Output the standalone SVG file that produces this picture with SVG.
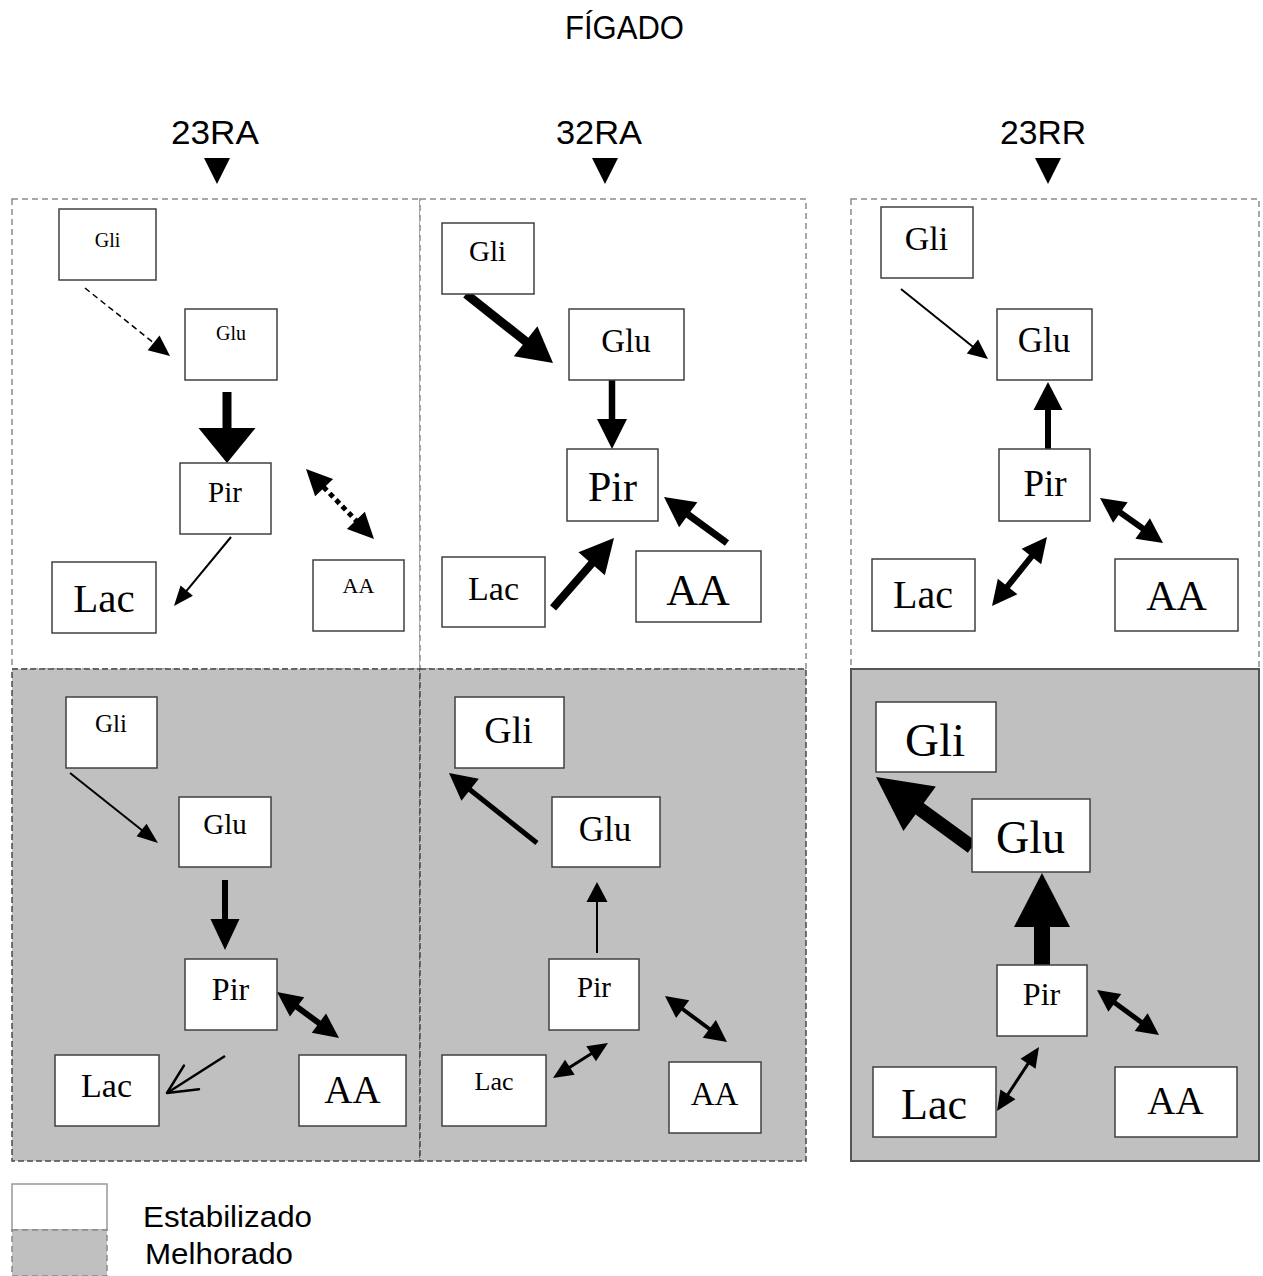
<svg xmlns="http://www.w3.org/2000/svg" width="1263" height="1276" viewBox="0 0 1263 1276">
<style>
.sans{font-family:"Liberation Sans",Arial,sans-serif;fill:#000}
.node rect{fill:#fff;stroke:#404040;stroke-width:1.5}
.node text{font-family:"Liberation Serif","Times New Roman",serif;text-anchor:middle;fill:#000}
.top{fill:#fff;stroke:#8c8c8c;stroke-width:1.5;stroke-dasharray:6 4}
.bot{fill:#c0c0c0;stroke:#4a4a4a;stroke-width:1.5;stroke-dasharray:6 3}
#connectors line,#connectors polyline{stroke:#000;fill:none}
#connectors polygon{fill:#000}
</style>
<rect width="1263" height="1276" fill="#fff"/>
<text class="sans" x="565" y="39" font-size="33" textLength="119" lengthAdjust="spacingAndGlyphs">FÍGADO</text>
<g id="headers">
<text class="sans" x="171" y="144" font-size="33" textLength="88" lengthAdjust="spacingAndGlyphs">23RA</text>
<text class="sans" x="556" y="144" font-size="33" textLength="86" lengthAdjust="spacingAndGlyphs">32RA</text>
<text class="sans" x="1000" y="144" font-size="33" textLength="86" lengthAdjust="spacingAndGlyphs">23RR</text>
<polygon points="204,158 230,158 217,184" fill="#000"/>
<polygon points="592,158 618,158 605,184" fill="#000"/>
<polygon points="1035,158 1061,158 1048,184" fill="#000"/>
</g>
<g id="panels">
<rect class="top" x="12" y="199" width="408" height="470"/>
<rect class="top" x="420" y="199" width="386" height="470"/>
<rect class="top" x="851" y="199" width="408" height="470"/>
<rect class="bot" x="12" y="669" width="408" height="492"/>
<rect class="bot" x="420" y="669" width="386" height="492"/>
<rect x="851" y="669" width="408" height="492" fill="#c0c0c0" stroke="#555" stroke-width="2"/>
</g>
<g id="connectors">
<g transform="translate(170,356) rotate(38.66)"><line x1="-108.9" y1="0" x2="-19" y2="0" stroke-width="1.5" stroke-dasharray="6 4"/><polygon points="0,0 -21,9.5 -21,-9.5"/></g>
<g transform="translate(227,463) rotate(90)"><line x1="-71" y1="0" x2="-34" y2="0" stroke-width="9"/><polygon points="0,0 -35,28.5 -35,-28.5"/></g>
<g transform="translate(174,606) rotate(129.56)"><line x1="-89.5" y1="0" x2="-19" y2="0" stroke-width="2"/><polygon points="0,0 -20,8 -20,-8"/></g>
<g transform="translate(374,539) rotate(45.83)"><line x1="-72.6" y1="0" x2="-25" y2="0" stroke-width="5" stroke-dasharray="5 4"/><polygon points="0,0 -26,12.5 -26,-12.5"/><polygon points="-97.6,0 -71.6,12.5 -71.6,-12.5"/></g>

<g transform="translate(553,363) rotate(38.42)"><line x1="-111" y1="0" x2="-33" y2="0" stroke-width="9"/><polygon points="0,0 -35,19 -35,-19"/></g>
<g transform="translate(612,449) rotate(90)"><line x1="-69" y1="0" x2="-29" y2="0" stroke-width="6.5"/><polygon points="0,0 -30,15 -30,-15"/></g>
<g transform="translate(614,538) rotate(-48.93)"><line x1="-92.8" y1="0" x2="-32" y2="0" stroke-width="8"/><polygon points="0,0 -34,17.5 -34,-17.5"/></g>
<g transform="translate(664,497) rotate(-143.86)"><line x1="-78" y1="0" x2="-29" y2="0" stroke-width="7"/><polygon points="0,0 -30,15.5 -30,-15.5"/></g>

<g transform="translate(988,359) rotate(38.82)"><line x1="-111.7" y1="0" x2="-19" y2="0" stroke-width="2"/><polygon points="0,0 -20,9 -20,-9"/></g>
<g transform="translate(1048,382) rotate(-90)"><line x1="-67" y1="0" x2="-27" y2="0" stroke-width="6"/><polygon points="0,0 -28,14.5 -28,-14.5"/></g>
<g transform="translate(1047,537) rotate(-51.44)"><line x1="-64.2" y1="0" x2="-24" y2="0" stroke-width="6"/><polygon points="0,0 -25,12.5 -25,-12.5"/><polygon points="-88.2,0 -63.2,12.5 -63.2,-12.5"/></g>
<g transform="translate(1163,543) rotate(35.54)"><line x1="-53.4" y1="0" x2="-24" y2="0" stroke-width="6"/><polygon points="0,0 -25,12.5 -25,-12.5"/><polygon points="-77.4,0 -52.4,12.5 -52.4,-12.5"/></g>

<g transform="translate(158,843) rotate(38.5)"><line x1="-112.4" y1="0" x2="-20" y2="0" stroke-width="2"/><polygon points="0,0 -21,8 -21,-8"/></g>
<g transform="translate(225,950) rotate(90)"><line x1="-70" y1="0" x2="-30" y2="0" stroke-width="6"/><polygon points="0,0 -31,14.5 -31,-14.5"/></g>
<g transform="translate(339,1038) rotate(36.57)"><line x1="-53.2" y1="0" x2="-24" y2="0" stroke-width="6"/><polygon points="0,0 -25,12 -25,-12"/><polygon points="-77.2,0 -52.2,12 -52.2,-12"/></g>
<g transform="translate(167,1093) rotate(147.46)"><line x1="-68.8" y1="0" x2="-1" y2="0" stroke-width="2.5"/><polyline points="-29,-14 0,0 -29,14" stroke-width="2.5" stroke-linecap="round" stroke-linejoin="round"/></g>

<g transform="translate(449,773) rotate(-141.5)"><line x1="-112.4" y1="0" x2="-26" y2="0" stroke-width="5"/><polygon points="0,0 -27,14 -27,-14"/></g>
<g transform="translate(597,882) rotate(-90)"><line x1="-71" y1="0" x2="-19" y2="0" stroke-width="2"/><polygon points="0,0 -20,10.5 -20,-10.5"/></g>
<g transform="translate(727,1042) rotate(36.57)"><line x1="-56.2" y1="0" x2="-21" y2="0" stroke-width="4"/><polygon points="0,0 -22,11 -22,-11"/><polygon points="-77.2,0 -55.2,11 -55.2,-11"/></g>
<g transform="translate(608,1043) rotate(-32.47)"><line x1="-46.2" y1="0" x2="-19" y2="0" stroke-width="3"/><polygon points="0,0 -20,9 -20,-9"/><polygon points="-65.2,0 -45.2,9 -45.2,-9"/></g>

<g transform="translate(876,777) rotate(-143.9)"><line x1="-118.8" y1="0" x2="-52" y2="0" stroke-width="14"/><polygon points="0,0 -54,27.5 -54,-27.5"/></g>
<g transform="translate(1042,873) rotate(-90)"><line x1="-92" y1="0" x2="-52" y2="0" stroke-width="16"/><polygon points="0,0 -54,28 -54,-28"/></g>
<g transform="translate(1159,1035) rotate(35.97)"><line x1="-55.6" y1="0" x2="-21" y2="0" stroke-width="5"/><polygon points="0,0 -22,11 -22,-11"/><polygon points="-76.6,0 -54.6,11 -54.6,-11"/></g>
<g transform="translate(1039,1047) rotate(-56.73)"><line x1="-57.6" y1="0" x2="-19" y2="0" stroke-width="3"/><polygon points="0,0 -20,9 -20,-9"/><polygon points="-76.6,0 -56.6,9 -56.6,-9"/></g>
</g>

<g id="tl-gli" class="node"><rect x="59" y="209" width="97" height="71"/><text x="107.5" y="247" font-size="20">Gli</text></g>
<g id="tl-glu" class="node"><rect x="185" y="309" width="92" height="71"/><text x="231" y="340" font-size="20">Glu</text></g>
<g id="tl-pir" class="node"><rect x="180" y="463" width="91" height="71"/><text x="225" y="502" font-size="29">Pir</text></g>
<g id="tl-lac" class="node"><rect x="52" y="562" width="104" height="71"/><text x="104" y="612" font-size="41">Lac</text></g>
<g id="tl-aa" class="node"><rect x="313" y="560" width="91" height="71"/><text x="358.5" y="593" font-size="22">AA</text></g>

<g id="tm-gli" class="node"><rect x="442" y="223" width="92" height="71"/><text x="487.5" y="261" font-size="29">Gli</text></g>
<g id="tm-glu" class="node"><rect x="569" y="309" width="115" height="71"/><text x="626" y="352" font-size="33">Glu</text></g>
<g id="tm-pir" class="node"><rect x="567" y="449" width="91" height="72"/><text x="612.5" y="501" font-size="42">Pir</text></g>
<g id="tm-lac" class="node"><rect x="442" y="557" width="103" height="70"/><text x="493.5" y="600" font-size="34">Lac</text></g>
<g id="tm-aa" class="node"><rect x="636" y="551" width="125" height="71"/><text x="698" y="605" font-size="44">AA</text></g>

<g id="tr-gli" class="node"><rect x="881" y="207" width="92" height="71"/><text x="926.5" y="250" font-size="34">Gli</text></g>
<g id="tr-glu" class="node"><rect x="997" y="309" width="95" height="71"/><text x="1044" y="352" font-size="35">Glu</text></g>
<g id="tr-pir" class="node"><rect x="999" y="449" width="91" height="72"/><text x="1045" y="496" font-size="37">Pir</text></g>
<g id="tr-lac" class="node"><rect x="872" y="559" width="103" height="72"/><text x="923" y="608" font-size="40">Lac</text></g>
<g id="tr-aa" class="node"><rect x="1115" y="559" width="123" height="72"/><text x="1176.5" y="610" font-size="42">AA</text></g>

<g id="bl-gli" class="node"><rect x="66" y="697" width="91" height="71"/><text x="111" y="732" font-size="25">Gli</text></g>
<g id="bl-glu" class="node"><rect x="179" y="797" width="92" height="70"/><text x="225" y="834" font-size="29">Glu</text></g>
<g id="bl-pir" class="node"><rect x="185" y="959" width="92" height="71"/><text x="230.5" y="1000" font-size="32">Pir</text></g>
<g id="bl-lac" class="node"><rect x="55" y="1055" width="104" height="71"/><text x="106.5" y="1097" font-size="34">Lac</text></g>
<g id="bl-aa" class="node"><rect x="299" y="1055" width="107" height="71"/><text x="352.5" y="1103" font-size="39">AA</text></g>

<g id="bm-gli" class="node"><rect x="455" y="697" width="109" height="71"/><text x="508.5" y="743" font-size="38">Gli</text></g>
<g id="bm-glu" class="node"><rect x="552" y="797" width="108" height="70"/><text x="605" y="841" font-size="35">Glu</text></g>
<g id="bm-pir" class="node"><rect x="549" y="959" width="90" height="71"/><text x="594" y="997" font-size="29">Pir</text></g>
<g id="bm-lac" class="node"><rect x="442" y="1055" width="104" height="71"/><text x="494" y="1090" font-size="26">Lac</text></g>
<g id="bm-aa" class="node"><rect x="669" y="1062" width="92" height="71"/><text x="714.5" y="1105" font-size="33">AA</text></g>

<g id="br-gli" class="node"><rect x="876" y="702" width="120" height="70"/><text x="935" y="756" font-size="47">Gli</text></g>
<g id="br-glu" class="node"><rect x="972" y="799" width="118" height="73"/><text x="1030.5" y="853" font-size="46">Glu</text></g>
<g id="br-pir" class="node"><rect x="997" y="965" width="90" height="71"/><text x="1041.5" y="1005" font-size="32">Pir</text></g>
<g id="br-lac" class="node"><rect x="873" y="1067" width="123" height="70"/><text x="934" y="1119" font-size="44">Lac</text></g>
<g id="br-aa" class="node"><rect x="1115" y="1067" width="122" height="70"/><text x="1175.5" y="1114" font-size="39">AA</text></g>

<g id="legend">
<rect x="12" y="1184" width="95" height="46" fill="#fff" stroke="#999" stroke-width="1.5"/>
<rect x="12" y="1230" width="95" height="46" fill="#c0c0c0" stroke="#888" stroke-width="1.5" stroke-dasharray="6 4"/>
<text class="sans" x="143" y="1227" font-size="29" textLength="169" lengthAdjust="spacingAndGlyphs">Estabilizado</text>
<text class="sans" x="145" y="1264" font-size="29" textLength="148" lengthAdjust="spacingAndGlyphs">Melhorado</text>
</g>
</svg>
